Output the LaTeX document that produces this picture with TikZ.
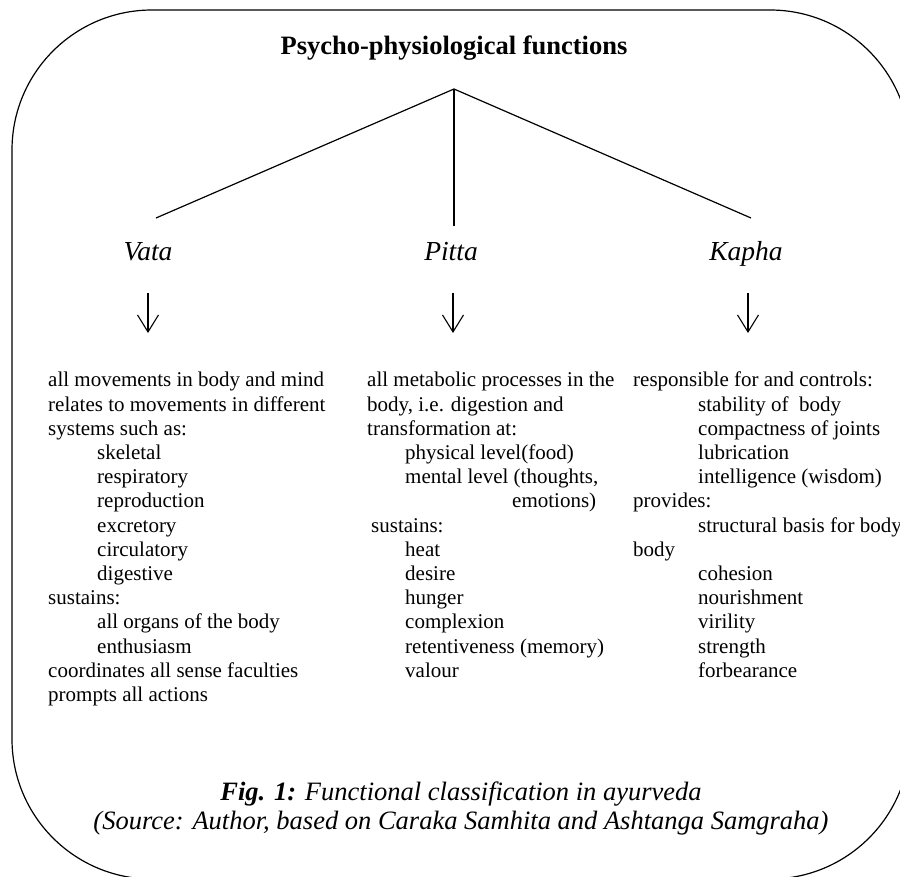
\documentclass[tikz,border=0pt]{standalone}
\usepackage{fontspec}
\setmainfont{Liberation Serif}
\usetikzlibrary{arrows.meta}
\tikzset{
  frameline/.style={line width=1.2pt,rounded corners=140pt},
  branch/.style={line width=1.2pt},
  downarrow/.style={line width=1.1pt,-{Straight Barb[length=17pt,width=21pt]}},
  dosha/.style={font=\fontsize{27.5}{30}\selectfont\itshape,anchor=base,inner sep=0pt},
  listtext/.style={font=\fontsize{21}{24.2}\selectfont,anchor=base west,inner sep=0pt},
  captext/.style={font=\fontsize{26.5}{29}\selectfont\itshape,anchor=base,inner sep=0pt}
}
\newcommand{\ind}[1]{\hspace*{#1pt}}

\begin{document}
\begin{tikzpicture}[x=1pt,y={(0pt,-1pt)}]
  \useasboundingbox (0,0) rectangle (900,877);
  \begin{scope}
    \clip (0,0) rectangle (900,877);
    \draw[frameline] (12,10) rectangle (910,879);
  \end{scope}
  % heading and the three branches
  \node[anchor=base,inner sep=0pt,font=\fontsize{26.5}{30}\selectfont\bfseries] (title) at (454,55) {Psycho-physiological functions};
  \coordinate (apex) at (454,89);
  \coordinate (vataend) at (156,218);
  \coordinate (pittaend) at (454,226);
  \coordinate (kaphaend) at (751,218);
  \draw[branch] (vataend) -- (apex) -- (kaphaend);
  \draw[branch] (apex) -- (pittaend);
  \node[dosha] (vata) at (148,261) {Vata};
  \node[dosha] (pitta) at (451,261) {Pitta};
  \node[dosha] (kapha) at (746,261) {Kapha};
  \coordinate (vatatop) at (148,293);   \coordinate (vatatip) at (148,333);
  \coordinate (pittatop) at (453,293);  \coordinate (pittatip) at (453,333);
  \coordinate (kaphatop) at (748,293);  \coordinate (kaphatip) at (748,333);
  \draw[downarrow] (vatatop) -- (vatatip);
  \draw[downarrow] (pittatop) -- (pittatip);
  \draw[downarrow] (kaphatop) -- (kaphatip);
  % lists
  \node[listtext] (vatalist) at (48,387) {\begin{tabular}[t]{@{}l@{}}
    all movements in body and mind\\
    relates to movements in different\\
    systems such as:\\
    \ind{49}skeletal\\
    \ind{49}respiratory\\
    \ind{49}reproduction\\
    \ind{49}excretory\\
    \ind{49}circulatory\\
    \ind{49}digestive\\
    sustains:\\
    \ind{49}all organs of the body\\
    \ind{49}enthusiasm\\
    coordinates all sense faculties\\
    prompts all actions
  \end{tabular}};
  \node[listtext] (pittalist) at (367,387) {\begin{tabular}[t]{@{}l@{}}
    all metabolic processes in the\\
    body, i.e. digestion and\\
    transformation at:\\
    \ind{38}physical level(food)\\
    \ind{38}mental level (thoughts,\\
    \ind{145}emotions)\\
    \ind{4}sustains:\\
    \ind{38}heat\\
    \ind{38}desire\\
    \ind{38}hunger\\
    \ind{38}complexion\\
    \ind{38}retentiveness (memory)\\
    \ind{38}valour
  \end{tabular}};
  \node[listtext] (kaphalist) at (633,387) {\begin{tabular}[t]{@{}l@{}}
    responsible for and controls:\\
    \ind{65}stability of\ \ body\\
    \ind{65}compactness of joints\\
    \ind{65}lubrication\\
    \ind{65}intelligence (wisdom)\\
    provides:\\
    \ind{65}structural basis for body\\
    body\\
    \ind{65}cohesion\\
    \ind{65}nourishment\\
    \ind{65}virility\\
    \ind{65}strength\\
    \ind{65}forbearance
  \end{tabular}};
  % caption
  \node[captext] (figcap) at (461,800) {\textbf{Fig. 1:} Functional classification in ayurveda};
  \node[captext] (source) at (461,829) {(Source: Author, based on Caraka Samhita and Ashtanga Samgraha)};
\end{tikzpicture}
\end{document}
